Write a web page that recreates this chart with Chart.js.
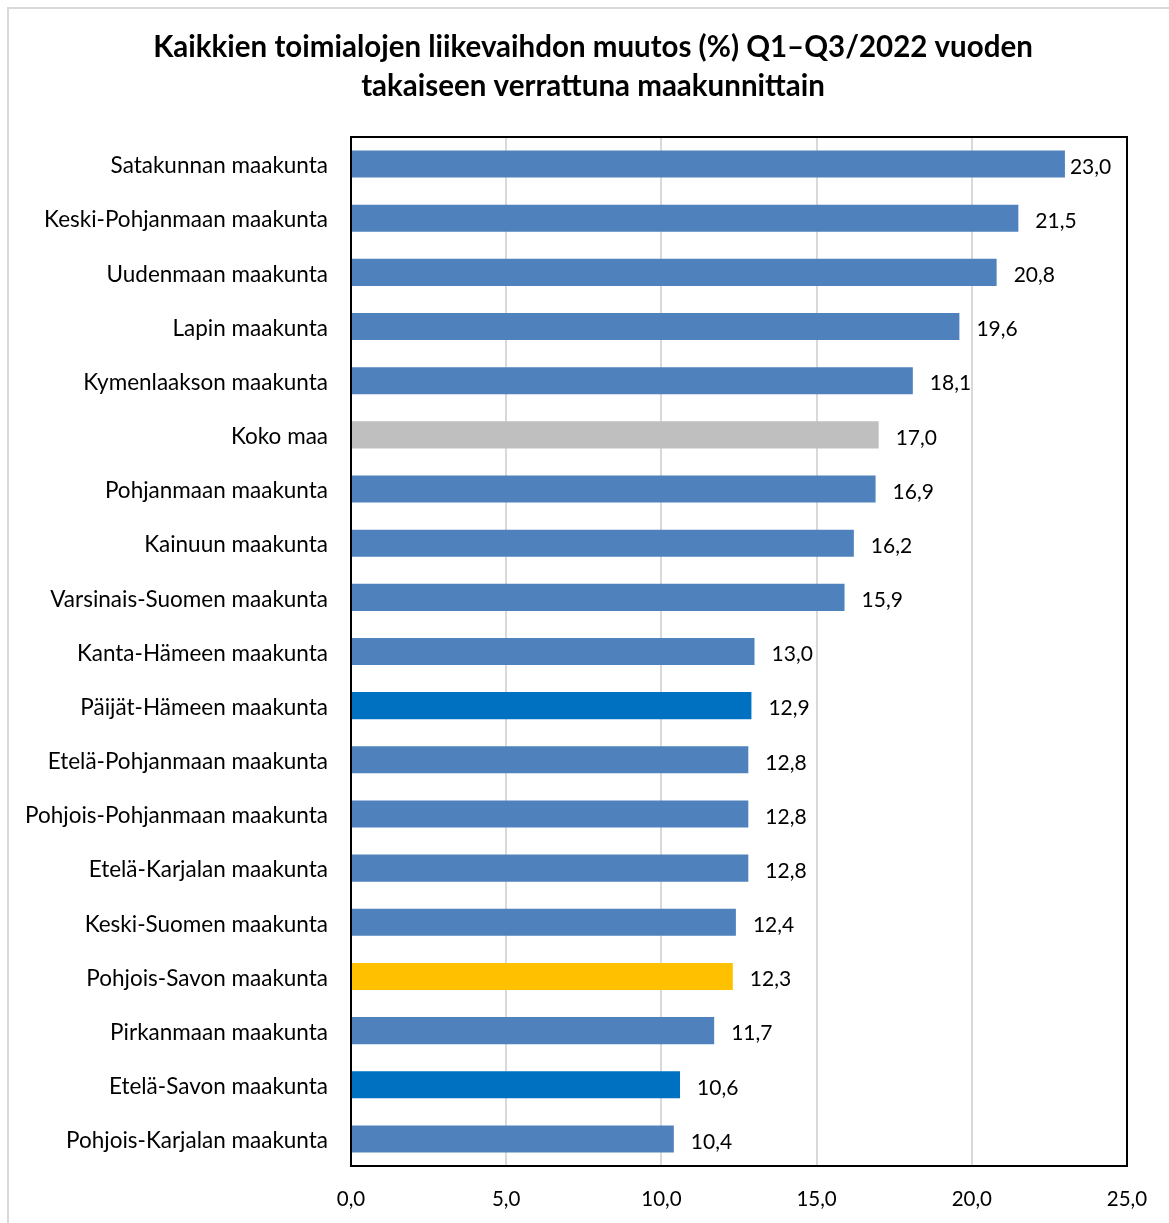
<!DOCTYPE html>
<html><head><meta charset="utf-8">
<script src="https://cdn.jsdelivr.net/npm/chart.js@4"></script>
<style>html,body{margin:0;padding:0;background:#fff}#wrap{width:1169px;height:1223px;position:relative}</style>
</head><body><div id="wrap"><canvas id="c" width="1169" height="1223"></canvas></div>
<script>
const categories = ["Satakunnan maakunta","Keski-Pohjanmaan maakunta","Uudenmaan maakunta","Lapin maakunta","Kymenlaakson maakunta","Koko maa","Pohjanmaan maakunta","Kainuun maakunta","Varsinais-Suomen maakunta","Kanta-Hämeen maakunta","Päijät-Hämeen maakunta","Etelä-Pohjanmaan maakunta","Pohjois-Pohjanmaan maakunta","Etelä-Karjalan maakunta","Keski-Suomen maakunta","Pohjois-Savon maakunta","Pirkanmaan maakunta","Etelä-Savon maakunta","Pohjois-Karjalan maakunta"];
const values = [23.0,21.5,20.8,19.6,18.1,17.0,16.9,16.2,15.9,13.0,12.9,12.8,12.8,12.8,12.4,12.3,11.7,10.6,10.4];
const barColors = ["#4F81BD","#4F81BD","#4F81BD","#4F81BD","#4F81BD","#BFBFBF","#4F81BD","#4F81BD","#4F81BD","#4F81BD","#0070C0","#4F81BD","#4F81BD","#4F81BD","#4F81BD","#FFC000","#4F81BD","#0070C0","#4F81BD"];
const titleLines = ["Kaikkien toimialojen liikevaihdon muutos (%) Q1–Q3/2022 vuoden","takaiseen verrattuna maakunnittain"];
const xMin = 0, xMax = 25, xStep = 5;

const fmt = v => v.toFixed(1).replace('.', ',');
const FONT = "Lato, 'Open Sans', sans-serif";

const framePlugin = {
  id: 'frame',
  beforeDraw(chart) {
    const ctx = chart.ctx;
    ctx.save();
    ctx.fillStyle = '#fff';
    ctx.fillRect(0,0,chart.width,chart.height);
    ctx.strokeStyle = '#D9D9D9';
    ctx.lineWidth = 2;
    ctx.strokeRect(8, 8, chart.width + 10, chart.height + 10);
    ctx.fillStyle = '#000';
    ctx.font = "bold 29.5px " + FONT;
    ctx.textAlign = 'center';
    ctx.textBaseline = 'middle';
    const cx = (chart.width + 17) / 2;
    titleLines.forEach((t, i) => ctx.fillText(t, cx, 47 + i * 39));
    ctx.restore();
  },
  afterDatasetsDraw(chart) {
    const ctx = chart.ctx;
    const a = chart.chartArea;
    const meta = chart.getDatasetMeta(0);
    ctx.save();
    ctx.font = "21px " + FONT;
    ctx.fillStyle = '#000';
    ctx.textBaseline = 'middle';
    ctx.textAlign = 'left';
    meta.data.forEach((bar, i) => {
      const t = fmt(values[i]);
      const w = ctx.measureText(t).width;
      let x = bar.x + 17;
      if (x + w > a.right - 10) x = bar.x + 5;
      ctx.fillText(t, x, bar.y + 3);
    });
    ctx.strokeStyle = '#000';
    ctx.lineWidth = 2;
    ctx.strokeRect(a.left, a.top, a.right - a.left, a.bottom - a.top);
    ctx.restore();
  }
};

new Chart(document.getElementById('c'), {
  type: 'bar',
  data: {
    labels: categories,
    datasets: [{ data: values, backgroundColor: barColors, borderWidth: 0, barPercentage: 0.5, categoryPercentage: 1.0 }]
  },
  options: {
    indexAxis: 'y',
    responsive: false,
    animation: false,
    layout: { padding: { left: 16, right: 42, top: 137, bottom: 0 } },
    plugins: {
      legend: { display: false },
      tooltip: { enabled: false },
      title: { display: false }
    },
    scales: {
      x: {
        min: xMin, max: xMax,
        ticks: { stepSize: xStep, color: '#000', font: { family: FONT, size: 20.5 }, padding: 21, callback: v => fmt(v) },
        grid: { color: '#D9D9D9', lineWidth: 2, drawTicks: false },
        border: { display: false },
        afterFit(s) { s.height = 57; }
      },
      y: {
        ticks: { color: '#000', font: { family: FONT, size: 22.5 }, padding: 23, autoSkip: false, labelOffset: 2 },
        grid: { display: false, drawTicks: false },
        border: { display: false },
        afterFit(s) { s.width = 335; }
      }
    }
  },
  plugins: [framePlugin]
});
</script>
</body></html>
